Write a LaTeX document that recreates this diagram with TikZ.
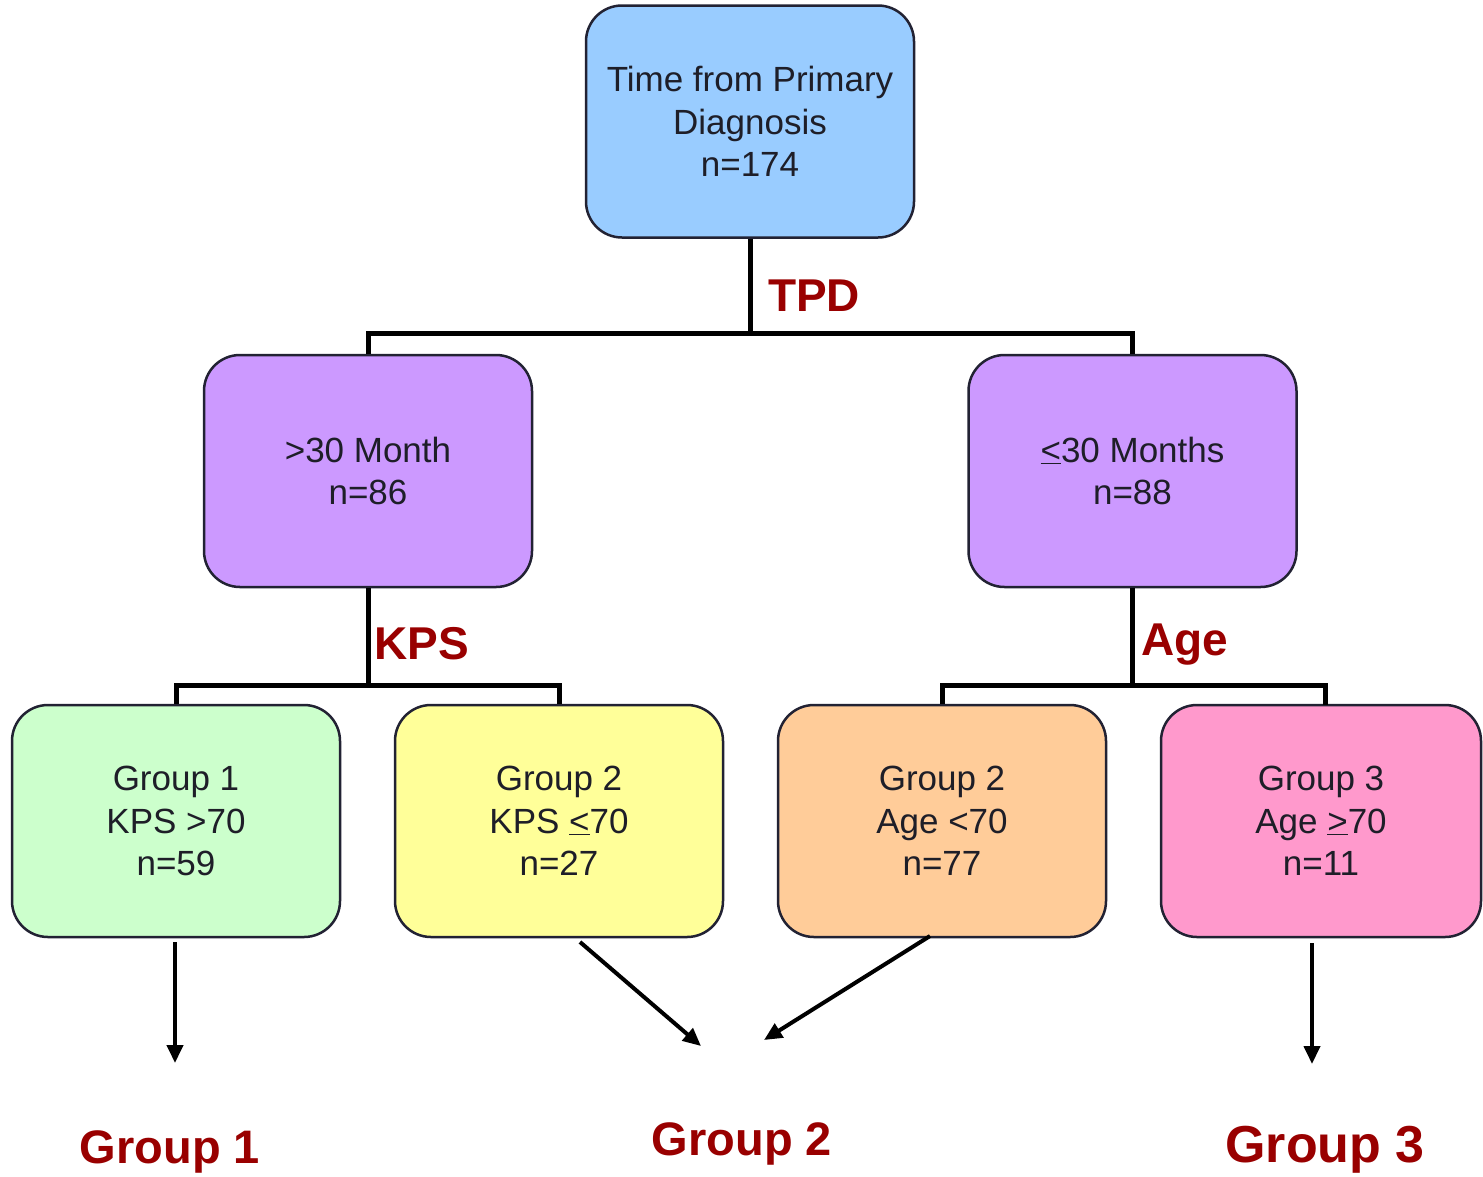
\documentclass[tikz,border=0pt]{standalone}
\usepackage{fontspec}
\setmainfont{Liberation Sans}
\usetikzlibrary{arrows.meta}
\definecolor{cblue}{HTML}{99CCFF}
\definecolor{cpurple}{HTML}{CC99FF}
\definecolor{cgreen}{HTML}{CCFFCC}
\definecolor{cyellow}{HTML}{FFFF99}
\definecolor{corange}{HTML}{FFCC99}
\definecolor{cpink}{HTML}{FF99CC}
\definecolor{dred}{HTML}{990000}
\definecolor{btext}{HTML}{1E1E28}
\definecolor{bline}{HTML}{222233}
\newcommand{\ule}{\underline{<}}
\newcommand{\uge}{\underline{>}}
\begin{document}
\begin{tikzpicture}[x=1pt,y=-1pt,
  tbox/.style={draw=bline,line width=2.5pt,rounded corners=36pt,minimum width=328pt,minimum height=232pt,
    align=center,inner sep=0pt,text=btext,font=\fontsize{35}{42.5}\selectfont},
  conn/.style={line width=5pt,line cap=butt},
  lab/.style={text=dred,font=\fontsize{46}{50}\selectfont\bfseries,inner sep=0pt},
  glab/.style={text=dred,font=\fontsize{47}{50}\selectfont\bfseries,inner sep=0pt},
  arr/.style={line width=4pt,-{Triangle[length=18pt,width=16pt]}}]
\useasboundingbox (0,0) rectangle (1483,1176);
\fill[white] (0,0) rectangle (1483,1176);
% nodes
\node[tbox,fill=cblue] (top) at (750,121.5) {Time from Primary\\Diagnosis\\n=174};
\node[tbox,fill=cpurple] (ml) at (368,471) {>30 Month\\n=86};
\node[tbox,fill=cpurple] (mr) at (1132.5,471) {\ule30 Months\\n=88};
\node[tbox,fill=cgreen] (g1) at (176,821) {Group 1\\KPS >70\\n=59};
\node[tbox,fill=cyellow] (g2a) at (559,821) {Group 2\\KPS \ule70\\n=27};
\node[tbox,fill=corange] (g2b) at (942,821) {Group 2\\Age <70\\n=77};
\node[tbox,fill=cpink,minimum width=320pt] (g3) at (1321,821) {Group 3\\Age \uge70\\n=11};
% tree connectors
\coordinate (tj) at (750,333);
\draw[conn] (top.south) -- (tj);
\draw[conn] (ml.north) |- (mr.north |- tj) -- (mr.north);
\coordinate (lj) at (368,685);
\draw[conn] (ml.south) -- (lj);
\draw[conn] (g1.north) |- (g2a.north |- lj) -- (g2a.north);
\coordinate (rj) at (1132.5,685);
\coordinate (g3t) at (1325,705);
\draw[conn] (mr.south) -- (rj);
\draw[conn] (g2b.north) |- (g3t |- rj) -- (g3t);
% labels
\node[lab,anchor=west] (tpd) at (768,296) {TPD};
\node[lab,anchor=west] (kps) at (374,644) {KPS};
\node[lab,anchor=west] (age) at (1141,645) {Age};
% result labels
\node[glab] (r1) at (170,1152) {Group 1};
\node[glab] (r2) at (742,1144) {Group 2};
\node[glab,font=\fontsize{52}{55}\selectfont\bfseries] (r3) at (1325,1150) {Group 3};
% arrows
\coordinate (a1s) at (175,942);
\coordinate (a1e) at (175,1063);
\coordinate (a2s) at (580,942);
\coordinate (a2e) at (701,1046);
\coordinate (a3s) at (930,936);
\coordinate (a3e) at (764,1040);
\coordinate (a4s) at (1312,943);
\coordinate (a4e) at (1312,1064);
\draw[arr] (a1s) -- (a1e);
\draw[arr] (a2s) -- (a2e);
\draw[arr] (a3s) -- (a3e);
\draw[arr] (a4s) -- (a4e);
\end{tikzpicture}
\end{document}
